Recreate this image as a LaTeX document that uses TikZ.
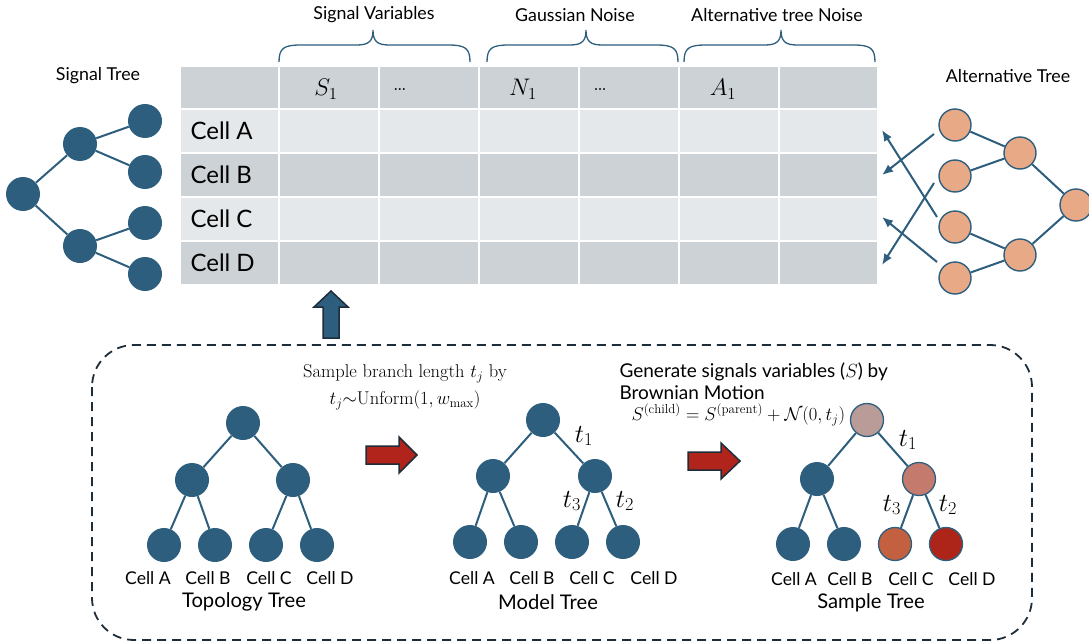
\RequirePackage{fix-cm}
\documentclass[tikz,border=0pt]{standalone}
\usepackage{amsmath}
\usepackage{fontspec}
\newfontfamily\sansf{Lato}
\usetikzlibrary{arrows.meta}

\definecolor{tblue}{HTML}{2E5E7E}
\definecolor{salmon}{HTML}{E8A987}
\definecolor{cellDark}{HTML}{CDD2D6}
\definecolor{cellLight}{HTML}{E5E8EB}
\definecolor{arrowRed}{HTML}{B0241B}
\definecolor{outline}{HTML}{1E2D3A}
\definecolor{rootMauve}{HTML}{B99B97}
\definecolor{midRose}{HTML}{C47A6D}
\definecolor{leafRust}{HTML}{C2603F}
\definecolor{leafCrimson}{HTML}{AD2519}

\tikzset{
  bnode/.style={circle, fill=tblue, minimum size=34pt, inner sep=0pt},
  cnode/.style={circle, fill=#1, draw=tblue, line width=1.3pt, minimum size=33pt, inner sep=0pt},
  anode/.style={circle, fill=salmon, draw=tblue, line width=1.4pt, minimum size=32pt, inner sep=0pt},
  branch/.style={draw=tblue, line width=2pt},
  cellbox/.style={fill=#1, draw=white, line width=1.8pt},
  bracepath/.style={draw=tblue, line width=1.3pt},
  toplabel/.style={font=\sansf\fontsize{17.8}{21}\selectfont},
  celllabel/.style={font=\sansf\fontsize{24}{27}\selectfont, anchor=west},
  headmath/.style={font=\fontsize{24}{27}\selectfont},
  leaflabel/.style={font=\sansf\fontsize{17.6}{20}\selectfont},
  treetitle/.style={font=\sansf\fontsize{20.2}{23}\selectfont},
  serifnote/.style={font=\fontsize{18.5}{22}\selectfont},
  sansnote/.style={font=\sansf\fontsize{19}{22}\selectfont, anchor=west},
  tlabel/.style={font=\fontsize{26}{29}\selectfont},
  altarrow/.style={draw=tblue, line width=2pt, -{Latex[length=11pt,width=9pt]}},
  blockarrow/.style={draw=outline, line width=1.5pt, line join=miter},
}

\begin{document}
\begin{tikzpicture}[x=1pt, y=-1pt]
\useasboundingbox (0,0) rectangle (1089,642);

% ---------- data table ----------
\foreach \ya/\yb/\c in {66/109/cellDark, 109/153/cellLight, 153/197/cellDark, 197/241/cellLight, 241/285/cellDark} {
  \foreach \xa/\xb in {180/279, 279/379, 379/479, 479/579, 579/679, 679/779, 779/878} {
    \path[cellbox=\c] (\xa,\ya) rectangle (\xb,\yb);
  }
}
\node[celllabel] (cA) at (187,131) {Cell A};
\node[celllabel] (cB) at (187,175) {Cell B};
\node[celllabel] (cC) at (187,219) {Cell C};
\node[celllabel] (cD) at (187,263) {Cell D};

\node[headmath] (hS) at (326,89) {$S_1$};
\node[headmath] (hS2) at (400,90) {\ldots};
\node[headmath] (hN) at (523,89) {$N_1$};
\node[headmath] (hN2) at (600,90) {\ldots};
\node[headmath] (hA) at (723,89) {$A_1$};

% ---------- column group braces ----------
\foreach \xa/\xm/\xb in {279/373/470, 487/586/678, 684/781/875} {
  \path[bracepath] (\xa,62) .. controls (\xa,48) and (\xa+5,45) .. (\xa+22,45)
    -- (\xm-16,45) .. controls (\xm-4,45) and (\xm,41) .. (\xm,30)
    .. controls (\xm,41) and (\xm+4,45) .. (\xm+16,45)
    -- (\xb-22,45) .. controls (\xb-5,45) and (\xb,48) .. (\xb,62);
}
\node[toplabel] (gS) at (374,15) {Signal Variables};
\node[toplabel] (gN) at (575,15) {Gaussian Noise};
\node[toplabel] (gA) at (777,15) {Alternative tree Noise};

% ---------- signal tree ----------
\node[toplabel] (stitle) at (98,76) {Signal Tree};
\node[bnode] (sr) at (23,194) {};
\node[bnode] (sm1) at (80,144) {};
\node[bnode] (sm2) at (80,246) {};
\node[bnode] (sl1) at (145,121) {};
\node[bnode] (sl2) at (145,172) {};
\node[bnode] (sl3) at (145,223) {};
\node[bnode] (sl4) at (145,274) {};
\path[branch] (sr) -- (sm1) (sr) -- (sm2)
  (sm1) -- (sl1) (sm1) -- (sl2) (sm2) -- (sl3) (sm2) -- (sl4);

% ---------- alternative tree ----------
\node[toplabel] (atitle) at (1008,76) {Alternative Tree};
\node[anode] (ar) at (1076,205) {};
\node[anode] (am1) at (1020,153) {};
\node[anode] (am2) at (1020,255) {};
\node[anode] (al1) at (955,125) {};
\node[anode] (al2) at (955,176) {};
\node[anode] (al3) at (955,227) {};
\node[anode] (al4) at (955,278) {};
\path[branch] (ar) -- (am1) (ar) -- (am2)
  (am1) -- (al1) (am1) -- (al2) (am2) -- (al3) (am2) -- (al4);

% permuted assignment of the alternative leaves to the rows
\coordinate (p1) at (934,134);
\coordinate (p2) at (934,183);
\coordinate (p3) at (937,217);
\coordinate (p4) at (937,262);
\coordinate (rA) at (882,130);
\coordinate (rB) at (882,175);
\coordinate (rC) at (882,217);
\coordinate (rD) at (882,265);
\draw[altarrow] (p1) -- (rB);
\draw[altarrow] (p3) -- (rA);
\draw[altarrow] (p2) -- (rD);
\draw[altarrow] (p4) -- (rC);

% ---------- upward block arrow ----------
\path[blockarrow, fill=tblue] (323,338) -- (323,307) -- (314,307) -- (331,291)
  -- (348,307) -- (339,307) -- (339,338) -- cycle;

% ---------- dashed frame ----------
\draw[outline, line width=1.8pt, dash pattern=on 9pt off 6pt, rounded corners=42pt]
  (92,345) rectangle (1032,640);

% ---------- topology tree ----------
\node[bnode] (tr) at (243,423) {};
\node[bnode] (tm1) at (192,480) {};
\node[bnode] (tm2) at (293,480) {};
\node[bnode] (tl1) at (164,545) {};
\node[bnode] (tl2) at (215,545) {};
\node[bnode] (tl3) at (266,545) {};
\node[bnode] (tl4) at (317,545) {};
\path[branch] (tr) -- (tm1) (tr) -- (tm2)
  (tm1) -- (tl1) (tm1) -- (tl2) (tm2) -- (tl3) (tm2) -- (tl4);
\node[leaflabel] (ta) at (148,578) {Cell A};
\node[leaflabel] (tb) at (208,578) {Cell B};
\node[leaflabel] (tc) at (269,578) {Cell C};
\node[leaflabel] (td) at (330,578) {Cell D};
\node[treetitle] (ttitle) at (244,602) {Topology Tree};

% ---------- first red arrow ----------
\path[blockarrow, fill=arrowRed] (366,446) -- (399,446) -- (399,437) -- (417,455)
  -- (399,473) -- (399,464) -- (366,464) -- cycle;

\node[serifnote] (n1) at (405,374) {Sample branch length $t_j$ by};
\node[serifnote] (n2) at (405,400) {$t_j{\sim}\mathrm{Unform}(1,w_{\max})$};

% ---------- model tree ----------
\node[bnode] (mr) at (543,420) {};
\node[bnode] (mm1) at (493,476) {};
\node[bnode] (mm2) at (595,476) {};
\node[bnode] (ml1) at (470,542) {};
\node[bnode] (ml2) at (521,542) {};
\node[bnode] (ml3) at (572,542) {};
\node[bnode] (ml4) at (623,542) {};
\path[branch] (mr) -- (mm1) (mr) -- (mm2)
  (mm1) -- (ml1) (mm1) -- (ml2) (mm2) -- (ml3) (mm2) -- (ml4);
\node[tlabel] (mt1) at (584,436) {$t_1$};
\node[tlabel] (mt3) at (572,501) {$t_3$};
\node[tlabel] (mt2) at (625,501) {$t_2$};
\node[leaflabel] (ma) at (472,578) {Cell A};
\node[leaflabel] (mb) at (532,578) {Cell B};
\node[leaflabel] (mc) at (592,578) {Cell C};
\node[leaflabel] (md) at (654,578) {Cell D};
\node[treetitle] (mtitle) at (548,602) {Model Tree};

% ---------- second red arrow ----------
\path[blockarrow, fill=arrowRed] (688,452) -- (721,452) -- (721,443) -- (740,461)
  -- (721,479) -- (721,470) -- (688,470) -- cycle;

\node[sansnote] (g1) at (616,372) {Generate signals variables ($S$) by};
\node[sansnote] (g2) at (616,393) {Brownian Motion};
\node[serifnote, anchor=west] (g3) at (628,415)
  {$S^{(\mathrm{child})}=S^{(\mathrm{parent})}+\mathcal{N}(0,t_j)$};

% ---------- sample tree ----------
\node[cnode=rootMauve] (xr) at (867,420) {};
\node[bnode] (xm1) at (817,479) {};
\node[cnode=midRose] (xm2) at (919,479) {};
\node[bnode] (xl1) at (793,544) {};
\node[bnode] (xl2) at (844,544) {};
\node[cnode=leafRust] (xl3) at (895,544) {};
\node[cnode=leafCrimson] (xl4) at (946,544) {};
\path[branch] (xr) -- (xm1) (xr) -- (xm2)
  (xm1) -- (xl1) (xm1) -- (xl2) (xm2) -- (xl3) (xm2) -- (xl4);
\node[tlabel] (xt1) at (908,440) {$t_1$};
\node[tlabel] (xt3) at (892,505) {$t_3$};
\node[tlabel] (xt2) at (948,505) {$t_2$};
\node[leaflabel] (xa) at (794,579) {Cell A};
\node[leaflabel] (xb) at (850,579) {Cell B};
\node[leaflabel] (xc) at (911,579) {Cell C};
\node[leaflabel] (xd) at (972,579) {Cell D};
\node[treetitle] (xtitle) at (871,603) {Sample Tree};
\end{tikzpicture}
\end{document}
